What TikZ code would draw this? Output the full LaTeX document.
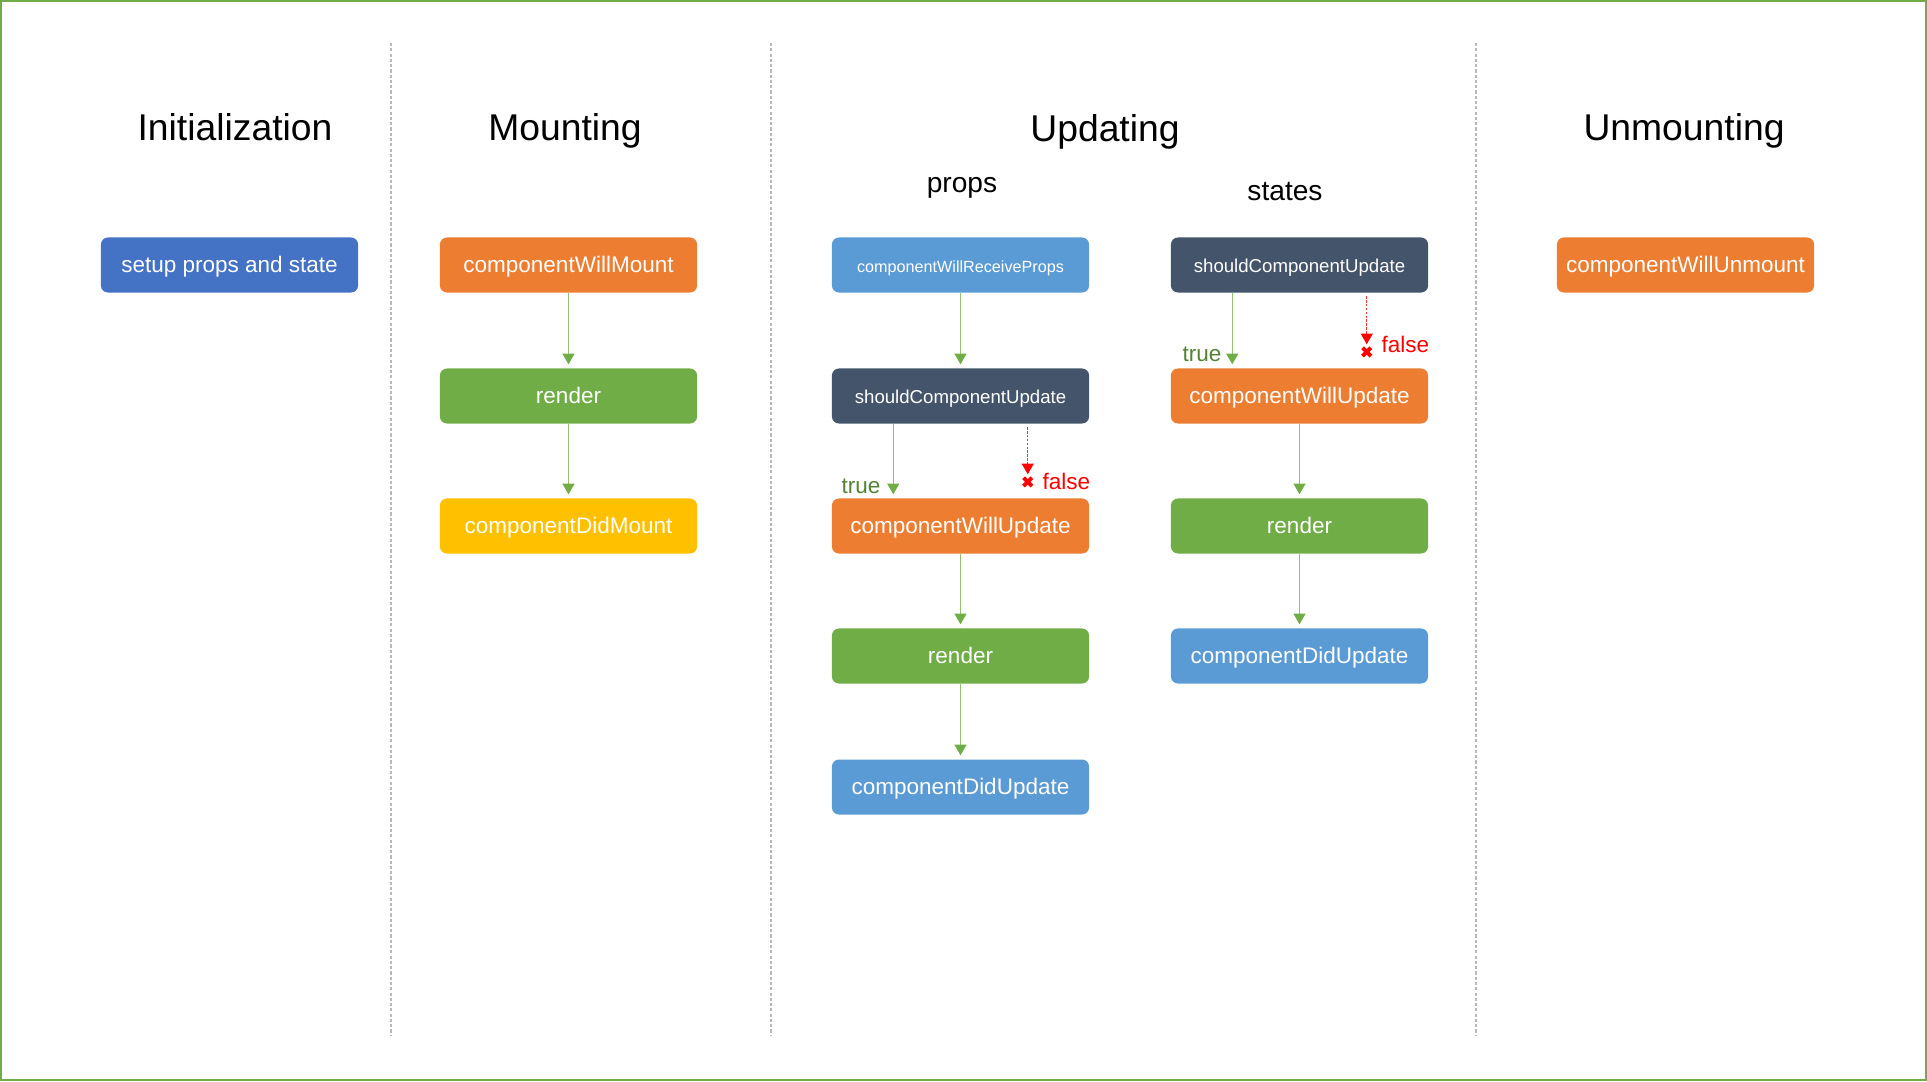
\documentclass[tikz,border=0pt]{standalone}
\usepackage{fontspec}
\setmainfont{Liberation Sans}
\usetikzlibrary{positioning}
\usetikzlibrary{arrows.meta}
\usetikzlibrary{shapes.misc}

\definecolor{initblue}{HTML}{4472C4}
\definecolor{lifeorange}{HTML}{ED7D31}
\definecolor{lifegreen}{HTML}{70AD47}
\definecolor{lifeyellow}{HTML}{FFC000}
\definecolor{lifeslate}{HTML}{44546A}
\definecolor{lifeblue}{HTML}{5B9BD5}
\definecolor{truegreen}{HTML}{548235}

\tikzset{
	stage/.style = {font = \fontsize{10.6}{12}\selectfont, anchor = base, inner sep = 0},
	branch/.style = {font = \fontsize{8}{10}\selectfont, anchor = base, inner sep = 0},
	box/.style = {rounded corners = 0.7mm, minimum width = 2.57cm, minimum height = 0.55cm, inner sep = 0,
		text = white, font = \fontsize{6.4}{8}\selectfont, text height = 5.8pt, text depth = 1.5pt},
	okarrow/.style = {draw = lifegreen!75, line width = 0.3pt, -{Triangle[length = 3pt, width = 3.4pt, color = lifegreen, fill = lifegreen]}, shorten > = 1pt},
	noarrow/.style = {draw = red!80, line width = 0.3pt, dash pattern = on 0.7pt off 0.4pt, -{Triangle[length = 3pt, width = 3.4pt, color = red, fill = red]}},
	xmark/.style = {cross out, draw = red, line width = 1.1pt, minimum size = 0.045cm, inner sep = 0},
	truelbl/.style = {text = truegreen, font = \fontsize{6.4}{8}\selectfont, inner sep = 0},
	falselbl/.style = {text = red, font = \fontsize{6.4}{8}\selectfont, inner sep = 0},
	divider/.style = {draw = gray!55, line width = 0.35pt, dash pattern = on 0.9pt off 0.6pt}
}

\begin{document}
\begin{tikzpicture}[x = 0.01cm, y = -0.01cm]
	\useasboundingbox (0, 0) rectangle (1927, 1081);
	\draw [lifegreen, line width = 0.6pt] (1, 1) rectangle (1926, 1080);

	% column dividers
	\draw [divider] (391, 43) -- (391, 1036);
	\draw [divider] (771, 43) -- (771, 1036);
	\draw [divider] (1476, 43) -- (1476, 1036);

	% stage titles
	\node [stage] (initTitle) at (235, 140) {Initialization};
	\node [stage] (mountTitle) at (565, 140) {Mounting};
	\node [stage] (updateTitle) at (1105, 141) {Updating};
	\node [stage] (unmountTitle) at (1684, 140) {Unmounting};
	\node [branch] (propsTitle) at (962, 192) {props};
	\node [branch] (statesTitle) at (1285, 200) {states};

	% initialization
	\node [box, fill = initblue] (setup) at (229.5, 265) {setup props and state};

	% mounting
	\node [box, fill = lifeorange] (willMount) at (568.5, 265) {componentWillMount};
	\node [box, fill = lifegreen] (mountRender) at (568.5, 396) {render};
	\node [box, fill = lifeyellow] (didMount) at (568.5, 526) {componentDidMount};
	\draw [okarrow] (willMount) -- (mountRender);
	\draw [okarrow] (mountRender) -- (didMount);

	% updating: props
	\node [box, fill = lifeblue, font = \fontsize{4.6}{6}\selectfont] (receiveProps) at (960.5, 265) {componentWillReceiveProps};
	\node [box, fill = lifeslate, font = \fontsize{5.3}{7}\selectfont] (propsShould) at (960.5, 396) {shouldComponentUpdate};
	\node [box, fill = lifeorange] (propsWill) at (960.5, 526) {componentWillUpdate};
	\node [box, fill = lifegreen] (propsRender) at (960.5, 656) {render};
	\node [box, fill = lifeblue] (propsDid) at (960.5, 787) {componentDidUpdate};
	\draw [okarrow] (receiveProps) -- (propsShould);
	\draw [okarrow] ([xshift = 0.62cm] propsShould.south west) -- ([xshift = 0.62cm] propsWill.north west);
	\node [truelbl, anchor = base east] at (881, 493) {true};
	\draw [noarrow] ([xshift = -0.62cm, yshift = -0.03cm] propsShould.south east) -- ++(0, 47) coordinate (propsStop);
	\node [xmark, below = 0.035cm of propsStop] (propsCross) {};
	\node [falselbl, right = 0.1cm of propsCross] {false};
	\draw [okarrow] (propsWill) -- (propsRender);
	\draw [okarrow] (propsRender) -- (propsDid);

	% updating: states
	\node [box, fill = lifeslate, font = \fontsize{5.3}{7}\selectfont] (statesShould) at (1299.5, 265) {shouldComponentUpdate};
	\node [box, fill = lifeorange] (statesWill) at (1299.5, 396) {componentWillUpdate};
	\node [box, fill = lifegreen] (statesRender) at (1299.5, 526) {render};
	\node [box, fill = lifeblue] (statesDid) at (1299.5, 656) {componentDidUpdate};
	\draw [okarrow] ([xshift = 0.62cm] statesShould.south west) -- ([xshift = 0.62cm] statesWill.north west);
	\node [truelbl, anchor = base east] at (1222, 361) {true};
	\draw [noarrow] ([xshift = -0.62cm, yshift = -0.03cm] statesShould.south east) -- ++(0, 48) coordinate (statesStop);
	\node [xmark, below = 0.035cm of statesStop] (statesCross) {};
	\node [falselbl, right = 0.1cm of statesCross, yshift = 0.07cm] {false};
	\draw [okarrow] (statesWill) -- (statesRender);
	\draw [okarrow] (statesRender) -- (statesDid);

	% unmounting
	\node [box, fill = lifeorange] (willUnmount) at (1685.5, 265) {componentWillUnmount};
\end{tikzpicture}
\end{document}
